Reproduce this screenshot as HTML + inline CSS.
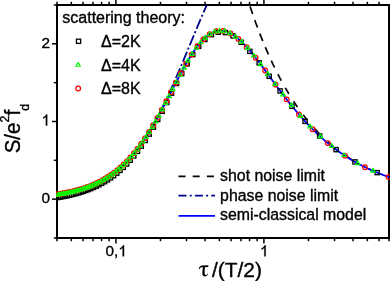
<!DOCTYPE html>
<html><head><meta charset="utf-8"><title>plot</title>
<style>html,body{margin:0;padding:0;background:#fff;}svg{display:block;will-change:transform;}text{font-family:"Liberation Sans",sans-serif;fill:#000;stroke:#000;stroke-width:0.35px;stroke-linejoin:round;}</style>
</head><body>
<svg width="390" height="281" viewBox="0 0 390 281">
<rect x="0" y="0" width="390" height="281" fill="#fff"/>
<defs><clipPath id="c"><rect x="56.0" y="4.0" width="334.0" height="235.0"/></clipPath></defs>
<g stroke="#000" stroke-width="2" fill="none" stroke-linecap="butt">
<path d="M57.0,4.0 V239.0 M389.0,4.0 V239.0 M56.0,5.0 H390.0 M56.0,238.0 H390.0"/>
</g>
<g stroke="#000" stroke-width="1.5" fill="none">
<path d="M52.0,199.17 H57.0"/>
<path d="M52.0,121.50 H57.0"/>
<path d="M52.0,43.83 H57.0"/>
<path d="M53.8,238.00 H57.0"/>
<path d="M53.8,160.33 H57.0"/>
<path d="M53.8,82.67 H57.0"/>
<path d="M53.8,5.00 H57.0"/>
<path d="M115.90,238.0 V243.4 M115.90,5.0 V-0.40000000000000036"/>
<path d="M263.91,238.0 V243.4 M263.91,5.0 V-0.40000000000000036"/>
<path d="M57.00,238.0 V241.2"/>
<path d="M57.00,5.0 V1.7999999999999998"/>
<path d="M71.34,238.0 V241.2"/>
<path d="M71.34,5.0 V1.7999999999999998"/>
<path d="M83.06,238.0 V241.2"/>
<path d="M83.06,5.0 V1.7999999999999998"/>
<path d="M92.97,238.0 V241.2"/>
<path d="M92.97,5.0 V1.7999999999999998"/>
<path d="M101.56,238.0 V241.2"/>
<path d="M101.56,5.0 V1.7999999999999998"/>
<path d="M109.13,238.0 V241.2"/>
<path d="M109.13,5.0 V1.7999999999999998"/>
<path d="M160.46,238.0 V241.2"/>
<path d="M160.46,5.0 V1.7999999999999998"/>
<path d="M186.52,238.0 V241.2"/>
<path d="M186.52,5.0 V1.7999999999999998"/>
<path d="M205.01,238.0 V241.2"/>
<path d="M205.01,5.0 V1.7999999999999998"/>
<path d="M219.36,238.0 V241.2"/>
<path d="M219.36,5.0 V1.7999999999999998"/>
<path d="M231.08,238.0 V241.2"/>
<path d="M231.08,5.0 V1.7999999999999998"/>
<path d="M240.99,238.0 V241.2"/>
<path d="M240.99,5.0 V1.7999999999999998"/>
<path d="M249.57,238.0 V241.2"/>
<path d="M249.57,5.0 V1.7999999999999998"/>
<path d="M257.14,238.0 V241.2"/>
<path d="M257.14,5.0 V1.7999999999999998"/>
<path d="M308.47,238.0 V241.2"/>
<path d="M308.47,5.0 V1.7999999999999998"/>
<path d="M334.53,238.0 V241.2"/>
<path d="M334.53,5.0 V1.7999999999999998"/>
<path d="M353.03,238.0 V241.2"/>
<path d="M353.03,5.0 V1.7999999999999998"/>
<path d="M367.37,238.0 V241.2"/>
<path d="M367.37,5.0 V1.7999999999999998"/>
<path d="M379.09,238.0 V241.2"/>
<path d="M379.09,5.0 V1.7999999999999998"/>
<path d="M389.00,238.0 V241.2"/>
</g>
<g clip-path="url(#c)" fill="none">
<path d="M250.11,6.61 L250.29,7.17 L250.48,7.73 L250.67,8.29 L250.86,8.85 L251.05,9.41 L251.23,9.96 L251.42,10.51 L251.61,11.07 L251.80,11.61 L251.99,12.16 L252.17,12.71 L252.36,13.25 L252.55,13.80 L252.64,14.07 M254.78,20.13 L254.97,20.65 L255.16,21.17 L255.35,21.69 L255.54,22.21 L255.72,22.73 L255.91,23.24 L256.10,23.76 L256.29,24.27 L256.48,24.78 L256.66,25.29 L256.85,25.80 L257.04,26.30 L257.23,26.81 L257.42,27.31 L257.49,27.50 M259.84,33.67 L260.03,34.15 L260.21,34.63 L260.40,35.11 L260.59,35.59 L260.78,36.07 L260.97,36.55 L261.15,37.02 L261.34,37.49 L261.53,37.97 L261.72,38.44 L261.91,38.91 L262.10,39.38 L262.28,39.84 L262.47,40.31 L262.66,40.77 L262.75,41.00 M265.32,47.18 L265.50,47.63 L265.69,48.07 L265.88,48.51 L266.07,48.95 L266.26,49.39 L266.44,49.83 L266.63,50.27 L266.82,50.70 L267.01,51.13 L267.20,51.57 L267.39,52.00 L267.57,52.43 L267.76,52.86 L267.95,53.28 L268.14,53.71 L268.33,54.14 L268.40,54.29 M271.31,60.72 L271.50,61.12 L271.69,61.53 L271.88,61.93 L272.06,62.33 L272.25,62.73 L272.44,63.13 L272.63,63.52 L272.82,63.92 L273.00,64.32 L273.19,64.71 L273.38,65.10 L273.57,65.49 L273.76,65.88 L273.94,66.27 L274.13,66.66 L274.32,67.05 L274.51,67.44 L274.56,67.53 M277.92,74.24 L278.11,74.60 L278.29,74.97 L278.48,75.33 L278.67,75.69 L278.86,76.05 L279.05,76.41 L279.23,76.77 L279.42,77.13 L279.61,77.49 L279.80,77.84 L279.99,78.20 L280.17,78.55 L280.36,78.90 L280.55,79.25 L280.74,79.60 L280.93,79.95 L281.11,80.30 L281.30,80.65 L281.35,80.74 M285.28,87.75 L285.46,88.08 L285.65,88.40 L285.84,88.73 L286.03,89.05 L286.22,89.37 L286.40,89.69 L286.59,90.01 L286.78,90.33 L286.97,90.65 L287.16,90.96 L287.34,91.28 L287.53,91.60 L287.72,91.91 L287.91,92.22 L288.10,92.54 L288.29,92.85 L288.47,93.16 L288.66,93.47 L288.85,93.78 L288.90,93.85 M293.60,101.28 L293.79,101.57 L293.97,101.85 L294.16,102.14 L294.35,102.42 L294.54,102.70 L294.73,102.99 L294.91,103.27 L295.10,103.55 L295.29,103.83 L295.48,104.10 L295.67,104.38 L295.86,104.66 L296.04,104.94 L296.23,105.21 L296.42,105.49 L296.61,105.76 L296.80,106.03 L296.98,106.30 L297.17,106.58 L297.36,106.85 L297.48,107.01 M303.17,114.82 L303.35,115.07 L303.54,115.31 L303.73,115.56 L303.92,115.80 L304.11,116.04 L304.30,116.29 L304.48,116.53 L304.67,116.77 L304.86,117.01 L305.05,117.25 L305.24,117.49 L305.42,117.73 L305.61,117.97 L305.80,118.20 L305.99,118.44 L306.18,118.68 L306.36,118.91 L306.55,119.15 L306.74,119.38 L306.93,119.61 L307.12,119.85 L307.30,120.08 L307.45,120.25 M314.40,128.35 L314.59,128.56 L314.78,128.76 L314.97,128.97 L315.16,129.17 L315.34,129.38 L315.53,129.58 L315.72,129.78 L315.91,129.99 L316.10,130.19 L316.28,130.39 L316.47,130.59 L316.66,130.79 L316.85,130.99 L317.04,131.19 L317.23,131.39 L317.41,131.59 L317.60,131.78 L317.79,131.98 L317.98,132.18 L318.17,132.37 L318.35,132.57 L318.54,132.76 L318.73,132.96 L318.92,133.15 L319.11,133.34 L319.15,133.39 M328.04,141.88 L328.23,142.05 L328.42,142.22 L328.60,142.38 L328.79,142.55 L328.98,142.72 L329.17,142.88 L329.36,143.05 L329.54,143.21 L329.73,143.37 L329.92,143.54 L330.11,143.70 L330.30,143.86 L330.48,144.02 L330.67,144.18 L330.86,144.34 L331.05,144.50 L331.24,144.66 L331.43,144.82 L331.61,144.98 L331.80,145.14 L331.99,145.30 L332.18,145.46 L332.37,145.61 L332.55,145.77 L332.74,145.92 L332.93,146.08 L333.12,146.24 L333.28,146.37 M345.34,155.40 L345.53,155.53 L345.72,155.66 L345.91,155.78 L346.10,155.91 L346.28,156.04 L346.47,156.16 L346.66,156.29 L346.85,156.41 L347.04,156.54 L347.22,156.66 L347.41,156.79 L347.60,156.91 L347.79,157.04 L347.98,157.16 L348.16,157.28 L348.35,157.40 L348.54,157.53 L348.73,157.65 L348.92,157.77 L349.10,157.89 L349.29,158.01 L349.48,158.13 L349.67,158.25 L349.86,158.37 L350.04,158.49 L350.23,158.61 L350.42,158.73 L350.61,158.84 L350.80,158.96 L350.99,159.08 L351.13,159.17 M369.13,168.94 L369.32,169.03 L369.51,169.12 L369.70,169.20 L369.89,169.29 L370.07,169.38 L370.26,169.47 L370.45,169.55 L370.64,169.64 L370.83,169.73 L371.02,169.81 L371.20,169.90 L371.39,169.98 L371.58,170.07 L371.77,170.15 L371.96,170.24 L372.14,170.32 L372.33,170.41 L372.52,170.49 L372.71,170.58 L372.90,170.66 L373.08,170.74 L373.27,170.82 L373.46,170.91 L373.65,170.99 L373.84,171.07 L374.02,171.15 L374.21,171.24 L374.40,171.32 L374.59,171.40 L374.78,171.48 L374.96,171.56 L375.15,171.64 L375.34,171.72 L375.43,171.76 " stroke="#000" stroke-width="1.7"/>
<path d="M206.75,5.00 L206.37,5.85 L206.00,6.70 L205.62,7.55 L205.25,8.41 L204.88,9.27 L204.50,10.13 L204.13,10.99 L203.75,11.86 L203.38,12.73 L203.00,13.60 L202.63,14.47 L202.26,15.34 L201.88,16.21 L201.51,17.09 L201.13,17.97 L200.76,18.85 L200.38,19.73 L200.01,20.62 L199.63,21.50 L199.26,22.39 L198.89,23.28 L198.51,24.17 L198.14,25.06 L197.76,25.95 L197.39,26.84 L197.01,27.74 L196.64,28.63 L196.27,29.53 L195.89,30.43 L195.52,31.32 L195.14,32.22 L194.77,33.12 L194.39,34.02 L194.02,34.93 L193.65,35.83 L193.27,36.73 L192.90,37.63 L192.52,38.54 L192.15,39.44 L191.77,40.34 L191.40,41.25 L191.02,42.15 L190.65,43.06 L190.28,43.96 L189.90,44.87 L189.53,45.77 L189.15,46.68 L188.78,47.58 L188.40,48.48 L188.03,49.39 L187.66,50.29 L187.28,51.19 L186.91,52.10 L186.53,53.00 L186.16,53.90 L185.78,54.80 L185.41,55.70 L185.03,56.60 L184.66,57.50 L184.29,58.39 L183.91,59.29 L183.54,60.19 L183.16,61.08 L182.79,61.97 L182.41,62.86 L182.04,63.75 L181.67,64.64 L181.29,65.53 L180.92,66.42 L180.54,67.30 L180.17,68.19 L179.79,69.07 L179.42,69.95 L179.04,70.83 L178.67,71.70 L178.30,72.58 L177.92,73.45 L177.55,74.32 L177.17,75.19 L176.80,76.06 L176.42,76.92 L176.05,77.78 L175.68,78.64 L175.30,79.50 L174.93,80.36 L174.55,81.21 L174.18,82.06 L173.80,82.91 L173.43,83.76 L173.05,84.60 L172.68,85.44 L172.31,86.28 L171.93,87.11 L171.56,87.95 L171.18,88.78 L170.81,89.61 L170.43,90.43 L170.06,91.25 L169.69,92.07 L169.31,92.89 L168.94,93.70 L168.56,94.51 L168.19,95.32 L167.81,96.12 L167.44,96.92 L167.06,97.72 L166.69,98.51 L166.32,99.30 L165.94,100.09 L165.57,100.88 L165.19,101.66 L164.82,102.43 L164.44,103.21 L164.07,103.98 L163.70,104.75 L163.32,105.51 L162.95,106.27 L162.57,107.03 L162.20,107.78 L161.82,108.53 L161.45,109.28 L161.07,110.02 L160.70,110.76 L160.33,111.49 L159.95,112.22 L159.58,112.95 L159.20,113.67 L158.83,114.39 L158.45,115.11 L158.08,115.82 L157.71,116.53 L157.33,117.23 L156.96,117.94 L156.58,118.63 L156.21,119.33 L155.83,120.01 L155.46,120.70 L155.08,121.38 L154.71,122.06 L154.34,122.73 L153.96,123.40 L153.59,124.07 L153.21,124.73 L152.84,125.38 L152.46,126.04 L152.09,126.69 L151.72,127.33 L151.34,127.97 L150.97,128.61 L150.59,129.24 L150.22,129.87 L149.84,130.50 L149.47,131.12 L149.10,131.74 L148.72,132.35 L148.35,132.96 L147.97,133.56 L147.60,134.16 L147.22,134.76 L146.85,135.35 L146.47,135.94 L146.10,136.53 L145.73,137.11 L145.35,137.68 L144.98,138.25 L144.60,138.82 L144.23,139.39 L143.85,139.95 L143.48,140.50 L143.11,141.06 L142.73,141.60 L142.36,142.15 L141.98,142.69 L141.61,143.23 L141.23,143.76 L140.86,144.29 L140.48,144.81 L140.11,145.33 L139.74,145.85 L139.36,146.36 L138.99,146.87 L138.61,147.37 L138.24,147.87 L137.86,148.37 L137.49,148.86 L137.12,149.35 L136.74,149.84 L136.37,150.32 L135.99,150.80 L135.62,151.27 L135.24,151.74 L134.87,152.21 L134.49,152.67 L134.12,153.13 L133.75,153.58 L133.37,154.03 L133.00,154.48 L132.62,154.93 L132.25,155.37 L131.87,155.80 L131.50,156.23 L131.13,156.66 L130.75,157.09 L130.38,157.51 L130.00,157.93 L129.63,158.34 L129.25,158.76 L128.88,159.16 L128.50,159.57 L128.13,159.97 L127.76,160.37 L127.38,160.76 L127.01,161.15 L126.63,161.54 L126.26,161.92 L125.88,162.30 L125.51,162.68 L125.14,163.05 L124.76,163.42 L124.39,163.79 L124.01,164.15 L123.64,164.51 L123.26,164.87 L122.89,165.22 L122.51,165.57 L122.14,165.92 L121.77,166.26 L121.39,166.61 L121.02,166.94 L120.64,167.28 L120.27,167.61 L119.89,167.94 L119.52,168.26 L119.15,168.59 L118.77,168.91 L118.40,169.22 L118.02,169.54 L117.65,169.85 L117.27,170.16 L116.90,170.46 L116.52,170.76 L116.15,171.06 L115.78,171.36 L115.40,171.65 L115.03,171.94 L114.65,172.23 L114.28,172.51 L113.90,172.80 L113.53,173.08 L113.16,173.35 L112.78,173.63 L112.41,173.90 L112.03,174.17 L111.66,174.44 L111.28,174.70 L110.91,174.96 L110.53,175.22 L110.16,175.48 L109.79,175.73 L109.41,175.98 L109.04,176.23 L108.66,176.48 L108.29,176.72 L107.91,176.96 L107.54,177.20 L107.17,177.44 L106.79,177.67 L106.42,177.90 L106.04,178.13 L105.67,178.36 L105.29,178.58 L104.92,178.81 L104.54,179.03 L104.17,179.25 L103.80,179.46 L103.42,179.68 L103.05,179.89 L102.67,180.10 L102.30,180.30 L101.92,180.51 L101.55,180.71 L101.18,180.91 L100.80,181.11 L100.43,181.31 L100.05,181.50 L99.68,181.70 L99.30,181.89 L98.93,182.08 L98.56,182.27 L98.18,182.45 L97.81,182.63 L97.43,182.82 L97.06,182.99 L96.68,183.17 L96.31,183.35 L95.93,183.52 L95.56,183.69 L95.19,183.86 L94.81,184.03 L94.44,184.20 L94.06,184.36 L93.69,184.53 L93.31,184.69 L92.94,184.85 L92.57,185.01 L92.19,185.16 L91.82,185.32 L91.44,185.47 L91.07,185.62 L90.69,185.77 L90.32,185.92 L89.94,186.07 L89.57,186.22 L89.20,186.36 L88.82,186.50 L88.45,186.64 L88.07,186.78 L87.70,186.92 L87.32,187.06 L86.95,187.19 L86.58,187.32 L86.20,187.46 L85.83,187.59 L85.45,187.72 L85.08,187.84 L84.70,187.97 L84.33,188.09 L83.95,188.22 L83.58,188.34 L83.21,188.46 L82.83,188.58 L82.46,188.70 L82.08,188.82 L81.71,188.93 L81.33,189.05 L80.96,189.16 L80.59,189.27 L80.21,189.38 L79.84,189.49 L79.46,189.60 L79.09,189.71 L78.71,189.82 L78.34,189.92 L77.96,190.03 L77.59,190.13 L77.22,190.23 L76.84,190.33 L76.47,190.43 L76.09,190.53 L75.72,190.63 L75.34,190.72 L74.97,190.82 L74.60,190.91 L74.22,191.00 L73.85,191.10 L73.47,191.19 L73.10,191.28 L72.72,191.37 L72.35,191.45 L71.97,191.54 L71.60,191.63 L71.23,191.71 L70.85,191.80 L70.48,191.88 L70.10,191.96 L69.73,192.04 L69.35,192.12 L68.98,192.20 L68.61,192.28 L68.23,192.36 L67.86,192.44 L67.48,192.51 L67.11,192.59 L66.73,192.66 L66.36,192.74 L65.98,192.81 L65.61,192.88 L65.24,192.95 L64.86,193.03 L64.49,193.09 L64.11,193.16 L63.74,193.23 L63.36,193.30 L62.99,193.37 L62.62,193.43 L62.24,193.50 L61.87,193.56 L61.49,193.63 L61.12,193.69 L60.74,193.75 L60.37,193.81 L59.99,193.87 L59.62,193.93 L59.25,193.99 L58.87,194.05 L58.50,194.11 L58.12,194.17 L57.75,194.23 L57.37,194.28 L57.00,194.34" stroke="#00008b" stroke-width="1.8" stroke-dasharray="10.6 2.6 2 2.6" stroke-dashoffset="2.5"/>
<path d="M57.00,194.34 L57.83,194.21 L58.66,194.09 L59.49,193.95 L60.32,193.82 L61.15,193.68 L61.98,193.54 L62.81,193.40 L63.64,193.25 L64.47,193.10 L65.30,192.94 L66.13,192.78 L66.96,192.62 L67.79,192.45 L68.62,192.28 L69.45,192.10 L70.28,191.92 L71.11,191.74 L71.94,191.55 L72.77,191.36 L73.60,191.16 L74.43,190.95 L75.26,190.74 L76.09,190.53 L76.92,190.31 L77.75,190.08 L78.58,189.85 L79.41,189.62 L80.24,189.38 L81.07,189.13 L81.90,188.87 L82.73,188.61 L83.56,188.35 L84.39,188.07 L85.22,187.79 L86.05,187.51 L86.88,187.22 L87.71,186.91 L88.54,186.61 L89.37,186.29 L90.20,185.97 L91.03,185.64 L91.86,185.30 L92.69,184.96 L93.52,184.60 L94.35,184.24 L95.18,183.87 L96.01,183.49 L96.84,183.10 L97.67,182.70 L98.50,182.29 L99.33,181.88 L100.16,181.45 L100.99,181.01 L101.82,180.57 L102.65,180.11 L103.48,179.64 L104.31,179.16 L105.14,178.68 L105.97,178.18 L106.80,177.67 L107.63,177.14 L108.46,176.61 L109.29,176.06 L110.12,175.50 L110.95,174.93 L111.78,174.35 L112.61,173.75 L113.44,173.15 L114.27,172.52 L115.10,171.89 L115.93,171.24 L116.76,170.58 L117.59,169.90 L118.42,169.21 L119.25,168.50 L120.08,167.78 L120.91,167.05 L121.74,166.29 L122.57,165.53 L123.40,164.75 L124.23,163.95 L125.06,163.14 L125.89,162.31 L126.72,161.46 L127.55,160.60 L128.38,159.72 L129.21,158.83 L130.04,157.91 L130.87,156.98 L131.70,156.04 L132.53,155.07 L133.36,154.09 L134.19,153.09 L135.02,152.08 L135.85,151.04 L136.68,149.99 L137.51,148.92 L138.34,147.83 L139.17,146.72 L140.00,145.59 L140.83,144.45 L141.66,143.29 L142.49,142.11 L143.32,140.91 L144.15,139.69 L144.98,138.46 L145.81,137.21 L146.64,135.94 L147.47,134.65 L148.30,133.35 L149.13,132.02 L149.96,130.69 L150.79,129.33 L151.62,127.96 L152.45,126.57 L153.28,125.16 L154.11,123.74 L154.94,122.31 L155.77,120.86 L156.60,119.39 L157.43,117.91 L158.26,116.42 L159.09,114.92 L159.92,113.40 L160.75,111.87 L161.58,110.33 L162.41,108.78 L163.24,107.22 L164.07,105.65 L164.90,104.07 L165.73,102.49 L166.56,100.89 L167.39,99.30 L168.22,97.69 L169.05,96.08 L169.88,94.47 L170.71,92.86 L171.54,91.25 L172.37,89.63 L173.20,88.02 L174.03,86.40 L174.86,84.79 L175.69,83.19 L176.52,81.58 L177.35,79.99 L178.18,78.40 L179.01,76.82 L179.84,75.25 L180.67,73.69 L181.50,72.14 L182.33,70.61 L183.16,69.08 L183.99,67.58 L184.82,66.09 L185.65,64.62 L186.48,63.16 L187.31,61.73 L188.14,60.32 L188.97,58.93 L189.80,57.56 L190.63,56.22 L191.46,54.90 L192.29,53.61 L193.12,52.35 L193.95,51.11 L194.78,49.91 L195.61,48.73 L196.44,47.59 L197.27,46.48 L198.10,45.40 L198.93,44.36 L199.76,43.35 L200.59,42.38 L201.42,41.44 L202.25,40.54 L203.08,39.68 L203.91,38.85 L204.74,38.06 L205.57,37.31 L206.40,36.61 L207.23,35.94 L208.06,35.31 L208.89,34.72 L209.72,34.17 L210.55,33.66 L211.38,33.20 L212.21,32.77 L213.04,32.39 L213.87,32.05 L214.70,31.74 L215.53,31.48 L216.36,31.26 L217.19,31.08 L218.02,30.94 L218.85,30.84 L219.68,30.78 L220.51,30.76 L221.34,30.78 L222.17,30.84 L223.00,30.94 L223.83,31.07 L224.66,31.24 L225.49,31.45 L226.32,31.69 L227.15,31.97 L227.98,32.29 L228.81,32.64 L229.64,33.02 L230.47,33.44 L231.30,33.89 L232.13,34.37 L232.96,34.88 L233.79,35.42 L234.62,35.99 L235.45,36.59 L236.28,37.22 L237.11,37.87 L237.94,38.55 L238.77,39.26 L239.60,39.99 L240.43,40.75 L241.26,41.53 L242.09,42.33 L242.92,43.15 L243.75,43.99 L244.58,44.86 L245.41,45.74 L246.24,46.64 L247.07,47.56 L247.90,48.49 L248.73,49.44 L249.56,50.41 L250.39,51.39 L251.22,52.38 L252.05,53.39 L252.88,54.41 L253.71,55.44 L254.54,56.48 L255.37,57.54 L256.20,58.60 L257.03,59.67 L257.86,60.75 L258.69,61.83 L259.52,62.93 L260.35,64.03 L261.18,65.13 L262.01,66.25 L262.84,67.36 L263.67,68.48 L264.50,69.60 L265.33,70.73 L266.16,71.86 L266.99,72.99 L267.82,74.12 L268.65,75.25 L269.48,76.39 L270.31,77.52 L271.14,78.66 L271.97,79.79 L272.80,80.92 L273.63,82.05 L274.46,83.18 L275.29,84.31 L276.12,85.43 L276.95,86.56 L277.78,87.67 L278.61,88.79 L279.44,89.90 L280.27,91.01 L281.10,92.11 L281.93,93.21 L282.76,94.31 L283.59,95.39 L284.42,96.48 L285.25,97.56 L286.08,98.63 L286.91,99.70 L287.74,100.76 L288.57,101.81 L289.40,102.86 L290.23,103.90 L291.06,104.94 L291.89,105.97 L292.72,106.99 L293.55,108.00 L294.38,109.01 L295.21,110.01 L296.04,111.01 L296.87,111.99 L297.70,112.97 L298.53,113.94 L299.36,114.90 L300.19,115.86 L301.02,116.81 L301.85,117.75 L302.68,118.68 L303.51,119.60 L304.34,120.52 L305.17,121.43 L306.00,122.33 L306.83,123.22 L307.66,124.10 L308.49,124.98 L309.32,125.85 L310.15,126.71 L310.98,127.56 L311.81,128.40 L312.64,129.24 L313.47,130.06 L314.30,130.88 L315.13,131.69 L315.96,132.50 L316.79,133.29 L317.62,134.08 L318.45,134.86 L319.28,135.63 L320.11,136.39 L320.94,137.15 L321.77,137.90 L322.60,138.64 L323.43,139.37 L324.26,140.09 L325.09,140.81 L325.92,141.52 L326.75,142.22 L327.58,142.91 L328.41,143.60 L329.24,144.28 L330.07,144.95 L330.90,145.61 L331.73,146.27 L332.56,146.92 L333.39,147.56 L334.22,148.20 L335.05,148.82 L335.88,149.44 L336.71,150.06 L337.54,150.66 L338.37,151.26 L339.20,151.86 L340.03,152.44 L340.86,153.02 L341.69,153.59 L342.52,154.16 L343.35,154.72 L344.18,155.27 L345.01,155.82 L345.84,156.36 L346.67,156.89 L347.50,157.42 L348.33,157.94 L349.16,158.46 L349.99,158.97 L350.82,159.47 L351.65,159.97 L352.48,160.46 L353.31,160.94 L354.14,161.42 L354.97,161.90 L355.80,162.36 L356.63,162.83 L357.46,163.28 L358.29,163.73 L359.12,164.18 L359.95,164.62 L360.78,165.06 L361.61,165.49 L362.44,165.91 L363.27,166.33 L364.10,166.74 L364.93,167.15 L365.76,167.56 L366.59,167.96 L367.42,168.35 L368.25,168.74 L369.08,169.13 L369.91,169.51 L370.74,169.88 L371.57,170.25 L372.40,170.62 L373.23,170.98 L374.06,171.34 L374.89,171.69 L375.72,172.04 L376.55,172.38 L377.38,172.72 L378.21,173.06 L379.04,173.39 L379.87,173.72 L380.70,174.04 L381.53,174.36 L382.36,174.68 L383.19,174.99 L384.02,175.29 L384.85,175.60 L385.68,175.90 L386.51,176.19 L387.34,176.49 L388.17,176.77 L389.00,177.06" stroke="#00f" stroke-width="1.8"/>
<g stroke="#000" stroke-width="1.3">
<rect x="375.04" y="170.53" width="4.2" height="4.2"/>
<rect x="352.90" y="159.82" width="4.2" height="4.2"/>
<rect x="334.01" y="147.53" width="4.2" height="4.2"/>
<rect x="317.55" y="133.90" width="4.2" height="4.2"/>
<rect x="302.96" y="119.27" width="4.2" height="4.2"/>
<rect x="289.86" y="104.07" width="4.2" height="4.2"/>
<rect x="277.97" y="88.83" width="4.2" height="4.2"/>
<rect x="267.09" y="74.19" width="4.2" height="4.2"/>
<rect x="257.06" y="60.79" width="4.2" height="4.2"/>
<rect x="247.75" y="49.26" width="4.2" height="4.2"/>
<rect x="239.07" y="40.14" width="4.2" height="4.2"/>
<rect x="230.94" y="33.80" width="4.2" height="4.2"/>
<rect x="223.30" y="30.47" width="4.2" height="4.2"/>
<rect x="216.08" y="30.11" width="4.2" height="4.2"/>
<rect x="209.25" y="32.55" width="4.2" height="4.2"/>
<rect x="202.76" y="37.40" width="4.2" height="4.2"/>
<rect x="196.59" y="44.21" width="4.2" height="4.2"/>
<rect x="190.69" y="52.48" width="4.2" height="4.2"/>
<rect x="185.06" y="61.71" width="4.2" height="4.2"/>
<rect x="179.66" y="71.45" width="4.2" height="4.2"/>
<rect x="174.48" y="81.32" width="4.2" height="4.2"/>
<rect x="169.50" y="91.04" width="4.2" height="4.2"/>
<rect x="164.71" y="100.38" width="4.2" height="4.2"/>
<rect x="160.09" y="109.21" width="4.2" height="4.2"/>
<rect x="155.62" y="117.45" width="4.2" height="4.2"/>
<rect x="151.31" y="125.04" width="4.2" height="4.2"/>
<rect x="147.14" y="131.99" width="4.2" height="4.2"/>
<rect x="143.10" y="138.32" width="4.2" height="4.2"/>
<rect x="139.18" y="144.05" width="4.2" height="4.2"/>
<rect x="135.38" y="149.22" width="4.2" height="4.2"/>
<rect x="131.69" y="153.88" width="4.2" height="4.2"/>
<rect x="128.10" y="158.08" width="4.2" height="4.2"/>
<rect x="124.61" y="161.85" width="4.2" height="4.2"/>
<rect x="121.21" y="165.24" width="4.2" height="4.2"/>
<rect x="117.90" y="168.30" width="4.2" height="4.2"/>
<rect x="114.67" y="171.05" width="4.2" height="4.2"/>
<rect x="111.52" y="173.52" width="4.2" height="4.2"/>
<rect x="108.44" y="175.76" width="4.2" height="4.2"/>
<rect x="105.44" y="177.77" width="4.2" height="4.2"/>
<rect x="102.51" y="179.60" width="4.2" height="4.2"/>
<rect x="99.64" y="181.25" width="4.2" height="4.2"/>
<rect x="96.83" y="182.74" width="4.2" height="4.2"/>
<rect x="94.09" y="184.10" width="4.2" height="4.2"/>
<rect x="91.40" y="185.34" width="4.2" height="4.2"/>
<rect x="88.77" y="186.46" width="4.2" height="4.2"/>
<rect x="86.19" y="187.49" width="4.2" height="4.2"/>
<rect x="83.66" y="188.43" width="4.2" height="4.2"/>
<rect x="81.17" y="189.28" width="4.2" height="4.2"/>
<rect x="78.74" y="190.07" width="4.2" height="4.2"/>
<rect x="76.35" y="190.79" width="4.2" height="4.2"/>
<rect x="74.01" y="191.45" width="4.2" height="4.2"/>
<rect x="71.70" y="192.06" width="4.2" height="4.2"/>
<rect x="69.44" y="192.62" width="4.2" height="4.2"/>
<rect x="67.22" y="193.14" width="4.2" height="4.2"/>
<rect x="65.03" y="193.62" width="4.2" height="4.2"/>
<rect x="62.88" y="194.06" width="4.2" height="4.2"/>
<rect x="60.77" y="194.48" width="4.2" height="4.2"/>
<rect x="58.69" y="194.86" width="4.2" height="4.2"/>
<rect x="56.64" y="195.21" width="4.2" height="4.2"/>
<rect x="54.63" y="195.54" width="4.2" height="4.2"/>
</g>
<g stroke="#f00" stroke-width="1.2">
<circle cx="388.58" cy="176.92" r="2.35"/>
<circle cx="364.98" cy="167.18" r="2.35"/>
<circle cx="345.05" cy="155.85" r="2.35"/>
<circle cx="327.80" cy="143.10" r="2.35"/>
<circle cx="312.59" cy="129.19" r="2.35"/>
<circle cx="298.99" cy="114.48" r="2.35"/>
<circle cx="286.70" cy="99.42" r="2.35"/>
<circle cx="275.48" cy="84.55" r="2.35"/>
<circle cx="265.15" cy="70.48" r="2.35"/>
<circle cx="255.60" cy="57.82" r="2.35"/>
<circle cx="246.71" cy="47.14" r="2.35"/>
<circle cx="238.39" cy="38.91" r="2.35"/>
<circle cx="230.58" cy="33.47" r="2.35"/>
<circle cx="223.22" cy="30.94" r="2.35"/>
<circle cx="216.25" cy="31.26" r="2.35"/>
<circle cx="209.64" cy="34.19" r="2.35"/>
<circle cx="203.36" cy="39.36" r="2.35"/>
<circle cx="197.37" cy="46.32" r="2.35"/>
<circle cx="191.65" cy="54.58" r="2.35"/>
<circle cx="186.17" cy="63.68" r="2.35"/>
<circle cx="180.91" cy="73.21" r="2.35"/>
<circle cx="175.86" cy="82.82" r="2.35"/>
<circle cx="171.00" cy="92.26" r="2.35"/>
<circle cx="166.32" cy="101.32" r="2.35"/>
<circle cx="161.80" cy="109.88" r="2.35"/>
<circle cx="157.44" cy="117.86" r="2.35"/>
<circle cx="153.22" cy="125.23" r="2.35"/>
<circle cx="149.13" cy="131.98" r="2.35"/>
<circle cx="145.17" cy="138.14" r="2.35"/>
<circle cx="141.33" cy="143.72" r="2.35"/>
<circle cx="137.60" cy="148.76" r="2.35"/>
<circle cx="133.97" cy="153.32" r="2.35"/>
<circle cx="130.45" cy="157.42" r="2.35"/>
<circle cx="127.01" cy="161.12" r="2.35"/>
<circle cx="123.67" cy="164.45" r="2.35"/>
<circle cx="120.41" cy="167.45" r="2.35"/>
<circle cx="117.24" cy="170.15" r="2.35"/>
<circle cx="114.14" cy="172.59" r="2.35"/>
<circle cx="111.11" cy="174.79" r="2.35"/>
<circle cx="108.15" cy="176.77" r="2.35"/>
<circle cx="105.26" cy="178.57" r="2.35"/>
<circle cx="102.43" cy="180.19" r="2.35"/>
<circle cx="99.66" cy="181.67" r="2.35"/>
<circle cx="96.95" cy="183.01" r="2.35"/>
<circle cx="94.30" cy="184.22" r="2.35"/>
<circle cx="91.70" cy="185.33" r="2.35"/>
<circle cx="89.15" cy="186.34" r="2.35"/>
<circle cx="86.66" cy="187.26" r="2.35"/>
<circle cx="84.21" cy="188.10" r="2.35"/>
<circle cx="81.80" cy="188.87" r="2.35"/>
<circle cx="79.44" cy="189.57" r="2.35"/>
<circle cx="77.12" cy="190.22" r="2.35"/>
<circle cx="74.84" cy="190.81" r="2.35"/>
<circle cx="72.61" cy="191.35" r="2.35"/>
<circle cx="70.41" cy="191.86" r="2.35"/>
<circle cx="68.25" cy="192.32" r="2.35"/>
<circle cx="66.12" cy="192.75" r="2.35"/>
<circle cx="64.03" cy="193.14" r="2.35"/>
<circle cx="61.97" cy="193.51" r="2.35"/>
<circle cx="59.94" cy="193.84" r="2.35"/>
<circle cx="57.95" cy="194.16" r="2.35"/>
</g>
<g stroke="#0f0" stroke-width="1.15" stroke-linejoin="round">
<path d="M370.82,172.18 L375.32,172.18 L373.07,168.38 Z"/>
<path d="M355.52,164.72 L360.02,164.72 L357.77,160.92 Z"/>
<path d="M341.83,156.48 L346.33,156.48 L344.08,152.68 Z"/>
<path d="M329.46,147.52 L333.96,147.52 L331.71,143.72 Z"/>
<path d="M318.15,137.93 L322.65,137.93 L320.40,134.13 Z"/>
<path d="M307.75,127.83 L312.25,127.83 L310.00,124.03 Z"/>
<path d="M298.12,117.34 L302.62,117.34 L300.37,113.54 Z"/>
<path d="M289.15,106.64 L293.65,106.64 L291.40,102.84 Z"/>
<path d="M280.75,95.91 L285.25,95.91 L283.00,92.11 Z"/>
<path d="M272.86,85.36 L277.36,85.36 L275.11,81.56 Z"/>
<path d="M265.41,75.20 L269.91,75.20 L267.66,71.40 Z"/>
<path d="M258.36,65.68 L262.86,65.68 L260.61,61.88 Z"/>
<path d="M251.66,57.01 L256.16,57.01 L253.91,53.21 Z"/>
<path d="M245.29,49.41 L249.79,49.41 L247.54,45.61 Z"/>
<path d="M239.20,43.05 L243.70,43.05 L241.45,39.25 Z"/>
<path d="M233.38,38.08 L237.88,38.08 L235.63,34.28 Z"/>
<path d="M227.79,34.59 L232.29,34.59 L230.04,30.79 Z"/>
<path d="M222.43,32.63 L226.93,32.63 L224.68,28.83 Z"/>
<path d="M217.27,32.19 L221.77,32.19 L219.52,28.39 Z"/>
<path d="M212.30,33.21 L216.80,33.21 L214.55,29.41 Z"/>
<path d="M207.50,35.58 L212.00,35.58 L209.75,31.78 Z"/>
<path d="M202.86,39.16 L207.36,39.16 L205.11,35.36 Z"/>
<path d="M198.37,43.79 L202.87,43.79 L200.62,39.99 Z"/>
<path d="M194.02,49.28 L198.52,49.28 L196.27,45.48 Z"/>
<path d="M189.80,55.45 L194.30,55.45 L192.05,51.65 Z"/>
<path d="M185.70,62.12 L190.20,62.12 L187.95,58.32 Z"/>
<path d="M181.71,69.11 L186.21,69.11 L183.96,65.31 Z"/>
<path d="M177.84,76.28 L182.34,76.28 L180.09,72.48 Z"/>
<path d="M174.06,83.49 L178.56,83.49 L176.31,79.69 Z"/>
<path d="M170.38,90.64 L174.88,90.64 L172.63,86.84 Z"/>
<path d="M166.79,97.63 L171.29,97.63 L169.04,93.83 Z"/>
<path d="M163.28,104.40 L167.78,104.40 L165.53,100.60 Z"/>
<path d="M159.85,110.89 L164.35,110.89 L162.10,107.09 Z"/>
<path d="M156.50,117.07 L161.00,117.07 L158.75,113.27 Z"/>
<path d="M153.23,122.93 L157.73,122.93 L155.48,119.13 Z"/>
<path d="M150.02,128.44 L154.52,128.44 L152.27,124.64 Z"/>
<path d="M146.87,133.61 L151.37,133.61 L149.12,129.81 Z"/>
<path d="M143.79,138.44 L148.29,138.44 L146.04,134.64 Z"/>
<path d="M140.76,142.94 L145.26,142.94 L143.01,139.14 Z"/>
<path d="M137.80,147.12 L142.30,147.12 L140.05,143.32 Z"/>
<path d="M134.88,151.01 L139.38,151.01 L137.13,147.21 Z"/>
<path d="M132.02,154.61 L136.52,154.61 L134.27,150.81 Z"/>
<path d="M129.20,157.94 L133.70,157.94 L131.45,154.14 Z"/>
<path d="M126.43,161.02 L130.93,161.02 L128.68,157.22 Z"/>
<path d="M123.71,163.87 L128.21,163.87 L125.96,160.07 Z"/>
<path d="M121.03,166.50 L125.53,166.50 L123.28,162.70 Z"/>
<path d="M118.39,168.93 L122.89,168.93 L120.64,165.13 Z"/>
<path d="M115.79,171.18 L120.29,171.18 L118.04,167.38 Z"/>
<path d="M113.22,173.26 L117.72,173.26 L115.47,169.46 Z"/>
<path d="M110.69,175.18 L115.19,175.18 L112.94,171.38 Z"/>
<path d="M108.20,176.96 L112.70,176.96 L110.45,173.16 Z"/>
<path d="M105.74,178.60 L110.24,178.60 L107.99,174.80 Z"/>
<path d="M103.31,180.12 L107.81,180.12 L105.56,176.32 Z"/>
<path d="M100.91,181.53 L105.41,181.53 L103.16,177.73 Z"/>
<path d="M98.54,182.83 L103.04,182.83 L100.79,179.03 Z"/>
<path d="M96.19,184.04 L100.69,184.04 L98.44,180.24 Z"/>
<path d="M93.88,185.16 L98.38,185.16 L96.13,181.36 Z"/>
<path d="M91.59,186.20 L96.09,186.20 L93.84,182.40 Z"/>
<path d="M89.32,187.17 L93.82,187.17 L91.57,183.37 Z"/>
<path d="M87.08,188.06 L91.58,188.06 L89.33,184.26 Z"/>
<path d="M84.86,188.90 L89.36,188.90 L87.11,185.10 Z"/>
<path d="M82.66,189.67 L87.16,189.67 L84.91,185.87 Z"/>
<path d="M80.48,190.39 L84.98,190.39 L82.73,186.59 Z"/>
<path d="M78.32,191.06 L82.82,191.06 L80.57,187.26 Z"/>
<path d="M76.18,191.69 L80.68,191.69 L78.43,187.89 Z"/>
<path d="M74.06,192.28 L78.56,192.28 L76.31,188.48 Z"/>
<path d="M71.96,192.82 L76.46,192.82 L74.21,189.02 Z"/>
<path d="M69.87,193.33 L74.37,193.33 L72.12,189.53 Z"/>
<path d="M67.80,193.81 L72.30,193.81 L70.05,190.01 Z"/>
<path d="M65.74,194.25 L70.24,194.25 L67.99,190.45 Z"/>
<path d="M63.70,194.67 L68.20,194.67 L65.95,190.87 Z"/>
<path d="M61.68,195.06 L66.18,195.06 L63.93,191.26 Z"/>
<path d="M59.66,195.42 L64.16,195.42 L61.91,191.62 Z"/>
<path d="M57.66,195.76 L62.16,195.76 L59.91,191.96 Z"/>
<path d="M55.67,196.09 L60.17,196.09 L57.92,192.29 Z"/>
</g>
</g>
<g font-size="15.3">
<text x="50" y="203.07" text-anchor="end">0</text>
<text x="50" y="47.73" text-anchor="end">2</text>
<path d="M47.19,125.40 L45.85,125.40 L45.85,116.83 Q45.36,117.29 44.58,117.76 Q43.79,118.22 43.16,118.62 L43.16,117.32 Q44.29,116.79 45.13,116.04 Q45.98,115.29 46.33,114.40 L47.19,114.40 Z" fill="#000" stroke="#000" stroke-width="0.35" stroke-linejoin="round"/>
<text x="105.57" y="256.3">0,</text>
<path d="M124.03,256.30 L122.68,256.30 L122.68,247.73 Q122.20,248.19 121.41,248.66 Q120.62,249.12 119.99,249.52 L119.99,248.22 Q121.12,247.69 121.97,246.94 Q122.81,246.19 123.16,245.30 L124.03,245.30 Z" fill="#000" stroke="#000" stroke-width="0.35" stroke-linejoin="round"/>
<path d="M265.66,256.30 L264.32,256.30 L264.32,247.73 Q263.83,248.19 263.05,248.66 Q262.26,249.12 261.63,249.52 L261.63,248.22 Q262.75,247.69 263.60,246.94 Q264.44,246.19 264.79,245.30 L265.66,245.30 Z" fill="#000" stroke="#000" stroke-width="0.35" stroke-linejoin="round"/>
</g>
<text x="212" y="277" font-size="20.9">/(T/2)</text>
<path fill="#000" d="M198.7,269.0 C199.3,267.0 200.3,265.6 202.0,265.5 L208.3,265.3 L208.3,267.1 L204.9,267.2 C204.8,269.5 204.6,271.5 204.7,273.0 C204.8,274.6 205.2,275.0 205.8,275.0 C206.5,275.0 207.2,274.3 207.6,273.4 L208.2,273.8 C207.6,275.4 206.4,276.4 204.9,276.4 C203.1,276.4 202.3,275.3 202.3,273.3 C202.3,271.5 202.6,269.3 202.9,267.2 L201.9,267.2 C200.8,267.2 200.0,267.8 199.4,269.3 Z"/>
<text transform="translate(20.4,153.3) rotate(-90) scale(1,1.04)" font-size="20.5">S/e<tspan font-size="12.5" dy="-11">2</tspan><tspan dy="11">f</tspan><tspan font-size="12.5" dy="8" dx="-0.8">d</tspan></text>
<g font-size="16">
<text x="62.3" y="22.5">scattering theory:</text>
<text x="101" y="46.8">Δ=2K</text>
<text x="101" y="70.5">Δ=4K</text>
<text x="101" y="94.2">Δ=8K</text>
<text x="220.1" y="181.1" font-size="15.85">shot noise limit</text>
<text x="220.1" y="200.6" font-size="15.85">phase noise limit</text>
<text x="220.1" y="220.4" font-size="15.85">semi-classical model</text>
</g>
<g fill="none" stroke-width="1.3">
<rect x="76.45" y="39.20" width="4.2" height="4.2" stroke="#000"/>
<path d="M75.90,66.22 L80.40,66.22 L78.15,62.42 Z" stroke="#0f0" stroke-width="1.15" stroke-linejoin="round"/>
<circle cx="78.2" cy="88.5" r="2.35" stroke="#f00" stroke-width="1.2"/>
</g>
<g fill="none">
<path d="M178.5,176.3 H215" stroke="#000" stroke-width="1.7" stroke-dasharray="7 7.2"/>
<path d="M178.5,195.6 H215" stroke="#00008b" stroke-width="1.8" stroke-dasharray="8 3.2 2 3.2"/>
<path d="M178.5,215.8 H215" stroke="#00f" stroke-width="1.8"/>
</g>
</svg></body></html>
